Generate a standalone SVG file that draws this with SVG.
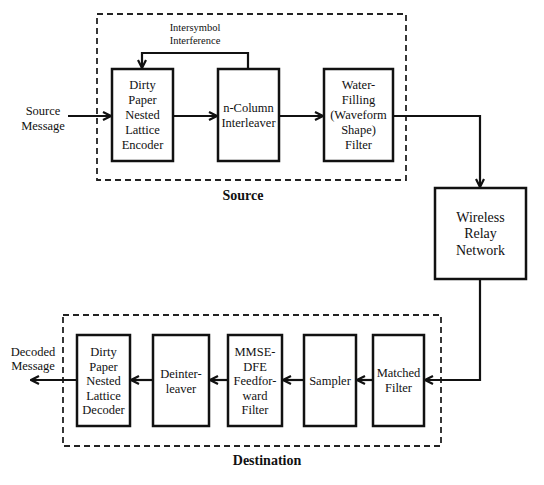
<svg xmlns="http://www.w3.org/2000/svg" width="544" height="485" viewBox="0 0 544 485">
<defs>
<style>
.box{fill:#fff;stroke:#111;stroke-width:2.5}
.dash{fill:none;stroke:#222;stroke-width:1.8;stroke-dasharray:6 4}
.wire{fill:none;stroke:#111;stroke-width:2.2}
text{fill:#111;text-anchor:middle}
.t{font-size:12.5px}
.s{font-size:10.5px}
.r{font-size:14px}
.b{font-size:14px;font-weight:bold}
</style>
<marker id="ah" viewBox="0 0 10 10" refX="9" refY="5" markerWidth="10" markerHeight="10" markerUnits="userSpaceOnUse" orient="auto">
<path d="M1,1 L9,5 L1,9" fill="none" stroke="#111" stroke-width="2.2"/>
</marker>
</defs>
<g font-family="Liberation Serif, DejaVu Serif, serif">
<rect class="dash" x="97" y="14" width="309" height="166"/>
<rect class="dash" x="63" y="315" width="378" height="131"/>
<text class="b" x="243" y="200">Source</text>
<text class="b" x="267" y="465">Destination</text>
<g id="connectors">
<path class="wire" d="M68,116 H111" marker-end="url(#ah)"/>
<path class="wire" d="M173,116 H217" marker-end="url(#ah)"/>
<path class="wire" d="M279,116 H323" marker-end="url(#ah)"/>
<path class="wire" d="M248,69 V53 H142 V68" marker-end="url(#ah)"/>
<path class="wire" d="M393,116 H480 V187" marker-end="url(#ah)"/>
<path class="wire" d="M480,279 V380 H425" marker-end="url(#ah)"/>
<path class="wire" d="M373,380 H357" marker-end="url(#ah)"/>
<path class="wire" d="M304,380 H283" marker-end="url(#ah)"/>
<path class="wire" d="M228,380 H210" marker-end="url(#ah)"/>
<path class="wire" d="M153,380 H131" marker-end="url(#ah)"/>
<path class="wire" d="M77,380 H31" marker-end="url(#ah)"/>
</g>
<g id="source-msg">
<text class="t" x="43" y="115">Source</text>
<text class="t" x="43" y="130">Message</text>
</g>
<g id="isi">
<text class="s" x="195" y="31">Intersymbol</text>
<text class="s" x="195" y="44">Interference</text>
</g>
<g id="encoder">
<rect class="box" x="112" y="69" width="61" height="92"/>
<text class="t" x="142.5" y="89">Dirty</text>
<text class="t" x="142.5" y="104">Paper</text>
<text class="t" x="142.5" y="119">Nested</text>
<text class="t" x="142.5" y="134">Lattice</text>
<text class="t" x="142.5" y="149">Encoder</text>
</g>
<g id="interleaver">
<rect class="box" x="218" y="69" width="61" height="92"/>
<text class="t" x="248.5" y="112">n-Column</text>
<text class="t" x="248.5" y="127">Interleaver</text>
</g>
<g id="waterfilling">
<rect class="box" x="324" y="69" width="69" height="92"/>
<text class="t" x="358.5" y="89">Water-</text>
<text class="t" x="358.5" y="104">Filling</text>
<text class="t" x="358.5" y="119">(Waveform</text>
<text class="t" x="358.5" y="134">Shape)</text>
<text class="t" x="358.5" y="149">Filter</text>
</g>
<g id="relay">
<rect class="box" x="435" y="188" width="91" height="91"/>
<text class="r" x="480.5" y="221.5">Wireless</text>
<text class="r" x="480.5" y="238">Relay</text>
<text class="r" x="480.5" y="254.5">Network</text>
</g>
<g id="matched">
<rect class="box" x="373" y="335" width="51" height="91"/>
<text class="t" x="398.5" y="377">Matched</text>
<text class="t" x="398.5" y="392">Filter</text>
</g>
<g id="sampler">
<rect class="box" x="304" y="335" width="52" height="91"/>
<text class="t" x="330" y="385">Sampler</text>
</g>
<g id="mmse">
<rect class="box" x="228" y="335" width="54" height="91"/>
<text class="t" x="255" y="356">MMSE-</text>
<text class="t" x="255" y="370.5">DFE</text>
<text class="t" x="255" y="385">Feedfor-</text>
<text class="t" x="255" y="399.5">ward</text>
<text class="t" x="255" y="414">Filter</text>
</g>
<g id="deinterleaver">
<rect class="box" x="153" y="335" width="56" height="91"/>
<text class="t" x="181" y="377.5">Deinter-</text>
<text class="t" x="181" y="392.5">leaver</text>
</g>
<g id="decoder">
<rect class="box" x="77" y="335" width="53" height="91"/>
<text class="t" x="103.5" y="356">Dirty</text>
<text class="t" x="103.5" y="370.5">Paper</text>
<text class="t" x="103.5" y="385">Nested</text>
<text class="t" x="103.5" y="399.5">Lattice</text>
<text class="t" x="103.5" y="414">Decoder</text>
</g>
<g id="decoded-msg">
<text class="t" x="33" y="356">Decoded</text>
<text class="t" x="33" y="370">Message</text>
</g>
</g>
</svg>
